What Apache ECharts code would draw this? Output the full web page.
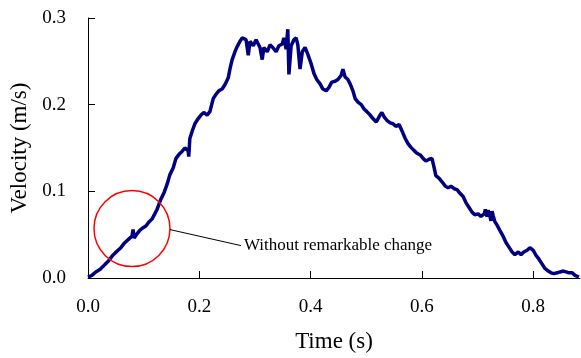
<!DOCTYPE html>
<html>
<head>
<meta charset="utf-8">
<script src="https://cdn.jsdelivr.net/npm/echarts@6/dist/echarts.min.js"></script>
<style>
html, body { margin: 0; padding: 0; background: #fff; }
#main { width: 581px; height: 358px; }
</style>
</head>
<body>
<div id="main"></div>
<script>
// time (s)
var times = [
    0.000,0.007,0.014,0.022,0.031,0.036,0.043,0.049,0.054,0.059,
    0.065,0.070,0.075,0.079,0.081,0.083,0.088,0.093,0.099,0.104,
    0.110,0.115,0.120,0.124,0.128,0.131,0.137,0.142,0.147,0.153,
    0.158,0.164,0.169,0.174,0.180,0.181,0.183,0.187,0.192,0.198,
    0.203,0.208,0.214,0.219,0.225,0.230,0.235,0.241,0.246,0.252,
    0.255,0.259,0.264,0.268,0.273,0.277,0.280,0.284,0.288,0.291,
    0.297,0.302,0.305,0.309,0.313,0.316,0.322,0.327,0.332,0.338,
    0.343,0.349,0.352,0.356,0.359,0.361,0.365,0.370,0.374,0.377,
    0.381,0.385,0.390,0.395,0.401,0.406,0.411,0.417,0.422,0.428,
    0.433,0.438,0.444,0.449,0.455,0.458,0.462,0.467,0.471,0.476,
    0.480,0.485,0.491,0.496,0.501,0.507,0.512,0.518,0.523,0.528,
    0.532,0.537,0.543,0.548,0.553,0.559,0.564,0.570,0.575,0.580,
    0.586,0.591,0.597,0.602,0.607,0.613,0.618,0.622,0.625,0.631,
    0.636,0.642,0.647,0.652,0.658,0.663,0.668,0.674,0.679,0.685,
    0.690,0.695,0.701,0.706,0.712,0.714,0.717,0.719,0.722,0.724,
    0.726,0.728,0.731,0.735,0.740,0.746,0.751,0.757,0.762,0.767,
    0.773,0.778,0.783,0.789,0.794,0.800,0.805,0.810,0.816,0.821,
    0.827,0.832,0.837,0.843,0.848,0.854,0.859,0.864,0.870,0.875,
    0.882
];
// velocity (m/s)
var velocity = [
    0.001,0.003,0.007,0.010,0.016,0.019,0.025,0.029,0.032,0.035,
    0.040,0.043,0.046,0.048,0.056,0.046,0.051,0.055,0.058,0.060,
    0.065,0.068,0.074,0.079,0.086,0.091,0.099,0.108,0.119,0.127,
    0.138,0.143,0.146,0.150,0.147,0.140,0.161,0.169,0.178,0.184,
    0.188,0.191,0.188,0.192,0.207,0.212,0.216,0.218,0.223,0.231,
    0.241,0.252,0.261,0.267,0.273,0.277,0.279,0.275,0.257,0.273,
    0.268,0.275,0.277,0.266,0.252,0.266,0.261,0.269,0.266,0.261,
    0.268,0.270,0.277,0.264,0.287,0.235,0.268,0.275,0.277,0.269,
    0.241,0.261,0.266,0.258,0.247,0.236,0.229,0.224,0.218,0.216,
    0.220,0.226,0.227,0.229,0.234,0.241,0.232,0.229,0.224,0.216,
    0.207,0.203,0.200,0.195,0.192,0.188,0.184,0.180,0.186,0.191,
    0.186,0.182,0.179,0.178,0.175,0.177,0.170,0.161,0.155,0.151,
    0.147,0.144,0.142,0.138,0.135,0.137,0.138,0.127,0.118,0.115,
    0.111,0.106,0.104,0.106,0.103,0.102,0.098,0.094,0.087,0.081,
    0.076,0.073,0.074,0.071,0.074,0.079,0.071,0.078,0.072,0.066,
    0.077,0.072,0.065,0.061,0.055,0.048,0.041,0.035,0.030,0.027,
    0.030,0.027,0.030,0.032,0.035,0.032,0.026,0.022,0.016,0.011,
    0.008,0.006,0.005,0.006,0.007,0.008,0.007,0.006,0.006,0.003,
    0.001
];
var xTicks = [0, 0.2, 0.4, 0.6, 0.8];
var noteCenter = [0.079, 0.057];   // middle of the red circle, data units
var noteText = 'Without remarkable change';

var font = '"Liberation Serif", "Times New Roman", serif';

var myChart = echarts.init(document.getElementById('main'));
var option = {
    animation: false,
    backgroundColor: '#fff',
    grid: {
        left: 88,
        right: 1,
        top: 18,
        bottom: 77
    },
    xAxis: {
        type: 'value',
        min: 0,
        max: 0.884,
        name: 'Time (s)',
        nameLocation: 'middle',
        nameGap: 52,
        nameTextStyle: { fontFamily: font, fontSize: 23, color: '#000' },
        axisLine: { lineStyle: { color: '#000', width: 1 } },
        axisTick: { inside: true, length: 7, customValues: xTicks, lineStyle: { color: '#000' } },
        axisLabel: {
            customValues: xTicks,
            margin: 20,
            fontFamily: font,
            fontSize: 19,
            color: '#000',
            formatter: function (v) { return v.toFixed(1); }
        },
        splitLine: { show: false }
    },
    yAxis: {
        type: 'value',
        min: 0,
        max: 0.3,
        interval: 0.1,
        name: 'Velocity (m/s)',
        nameLocation: 'middle',
        nameGap: 51,
        nameTextStyle: { fontFamily: font, fontSize: 23, color: '#000' },
        axisLine: { show: true, lineStyle: { color: '#000', width: 1 } },
        axisTick: { show: true, inside: true, length: 7, lineStyle: { color: '#000' } },
        axisLabel: {
            margin: 22,
            fontFamily: font,
            fontSize: 19,
            color: '#000',
            formatter: function (v) { return v.toFixed(1); }
        },
        splitLine: { show: false }
    },
    series: [{
        type: 'line',
        showSymbol: false,
        symbol: 'none',
        lineStyle: { color: '#000080', width: 3.5 },
        data: times.map(function (t, i) { return [t, velocity[i]]; })
    }]
};
myChart.setOption(option);

// callout: red ring round the early part of the trace, leader line and label
var c = myChart.convertToPixel({ gridIndex: 0 }, noteCenter);
var r = 38;
myChart.setOption({
    graphic: [
        {
            type: 'circle',
            shape: { cx: c[0], cy: c[1], r: r },
            style: { fill: null, stroke: '#ff0000', lineWidth: 1.5 },
            z: 100
        },
        {
            type: 'line',
            shape: { x1: c[0] + r, y1: c[1] + 1, x2: c[0] + 109, y2: c[1] + 17 },
            style: { stroke: '#000', lineWidth: 1 },
            z: 100
        },
        {
            type: 'text',
            x: c[0] + 112,
            y: c[1] + 17,
            style: {
                text: noteText,
                fontFamily: font,
                fontSize: 17,
                fill: '#000',
                verticalAlign: 'middle'
            },
            z: 100
        }
    ]
});
</script>
</body>
</html>
